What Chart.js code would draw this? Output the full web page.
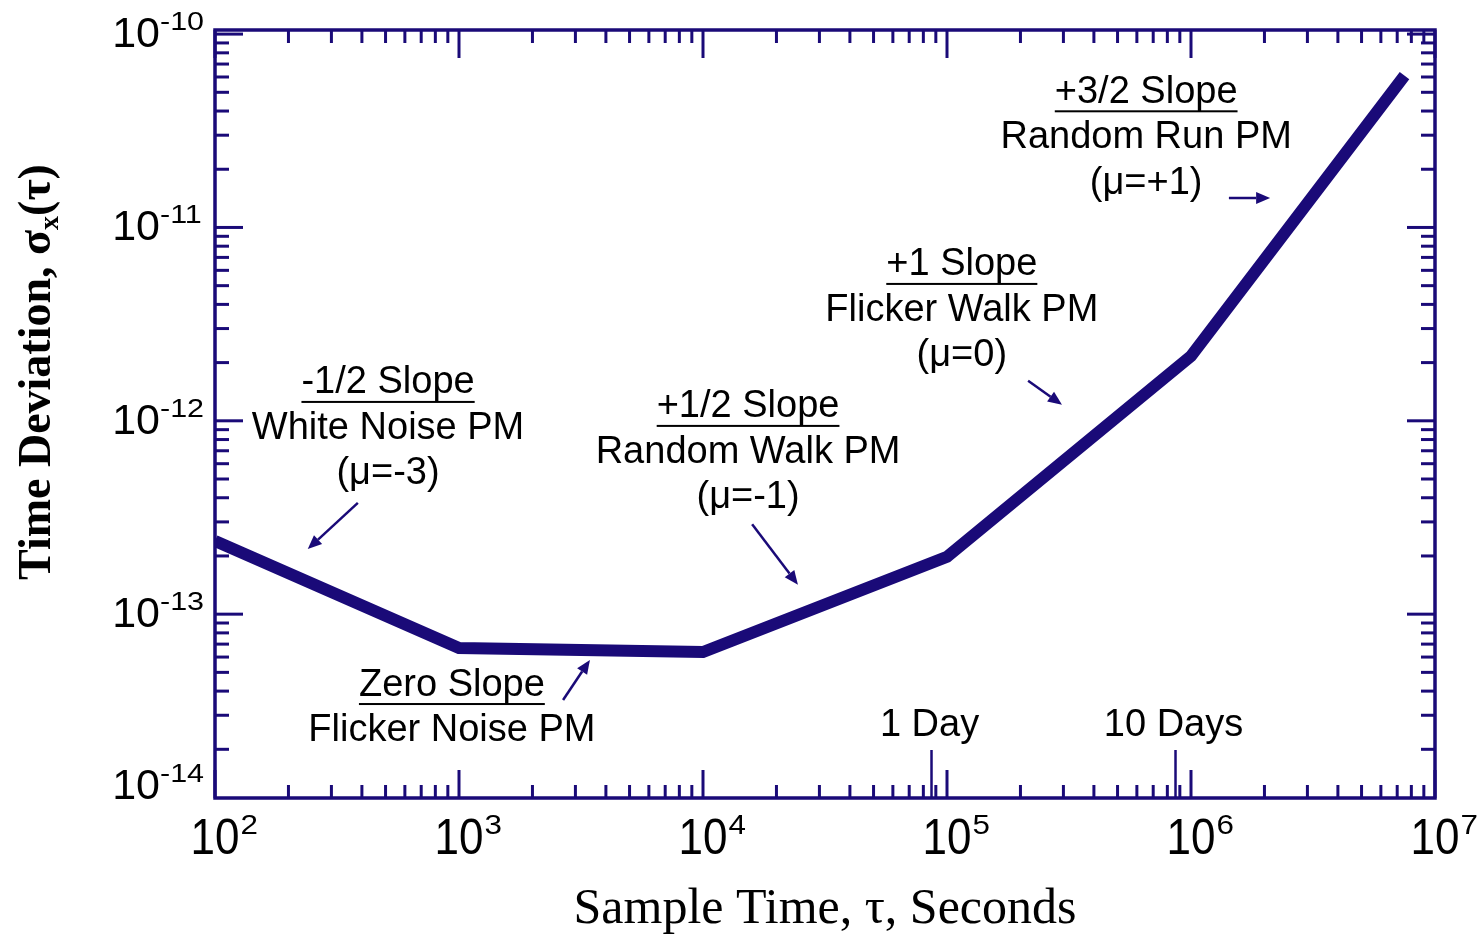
<!DOCTYPE html>
<html>
<head>
<meta charset="utf-8">
<script src="https://cdn.jsdelivr.net/npm/chart.js@4/dist/chart.umd.min.js"></script>
<style>
  html, body { margin: 0; padding: 0; background: #fff; }
  #wrap { width: 1481px; height: 935px; }
</style>
</head>
<body>
<div id="wrap"><canvas id="tdevChart"></canvas></div>
<script>
// ====== DATA ======
const tauSeconds = [1e2, 1e3, 1e4, 1e5, 1e6, 7.5e6];
const sigmaX     = [2.39e-13, 6.68e-14, 6.37e-14, 1.98e-13, 2.16e-12, 6.1e-11];

const xTickExps = [2, 3, 4, 5, 6, 7];
const yTickExps = [-10, -11, -12, -13, -14];

const dayTicks  = [86400, 864000];
const dayLabels = ['1 Day', '10 Days'];

// slope notes, anchored (tau, sigma) at the first line
const noteLines = [
  ['-1/2 Slope', 'White Noise PM', '(μ=-3)'],
  ['+1/2 Slope', 'Random Walk PM', '(μ=-1)'],
  ['+1 Slope', 'Flicker Walk PM', '(μ=0)'],
  ['+3/2 Slope', 'Random Run PM', '(μ=+1)'],
  ['Zero Slope', 'Flicker Noise PM']
];
const noteTau   = [512, 15300, 115000, 655000, 935];
const noteSigma = [1.57e-12, 1.18e-12, 6.4e-12, 5.0e-11, 4.3e-14];
// arrows: tauFrom, sigmaFrom, tauTo, sigmaTo
const noteArrows = [
  [385, 3.76e-13, 240, 2.17e-13],
  [15900, 2.92e-13, 24500, 1.42e-13],
  [215000, 1.61e-12, 296000, 1.21e-12],
  [1.43e6, 1.42e-11, 2.11e6, 1.42e-11],
  [2670, 3.6e-14, 3440, 5.8e-14]
];

// ====== STYLE ======
const NAVY = '#1a0a78';
const SANS = '"Liberation Sans", Arial, Helvetica, sans-serif';
const SERIF = '"Liberation Serif", "Times New Roman", serif';

// ====== HELPERS ======
function seg(ctx, x1, y1, x2, y2) {
  ctx.beginPath(); ctx.moveTo(x1, y1); ctx.lineTo(x2, y2); ctx.stroke();
}

function arrow(ctx, x1, y1, x2, y2) {
  const ang = Math.atan2(y2 - y1, x2 - x1);
  const hl = 14, hw = 6;
  const bx = x2 - hl * Math.cos(ang), by = y2 - hl * Math.sin(ang);
  ctx.lineWidth = 2.5;
  seg(ctx, x1, y1, bx, by);
  ctx.beginPath();
  ctx.moveTo(x2, y2);
  ctx.lineTo(bx + hw * Math.sin(ang), by - hw * Math.cos(ang));
  ctx.lineTo(bx - hw * Math.sin(ang), by + hw * Math.cos(ang));
  ctx.closePath();
  ctx.fill();
}

// text squeezed/stretched horizontally, left edge at x
function wideText(ctx, txt, x, y, sx) {
  ctx.save();
  ctx.translate(x, y);
  ctx.scale(sx, 1);
  ctx.textAlign = 'left';
  ctx.fillText(txt, 0, 0);
  ctx.restore();
  return ctx.measureText(txt).width * sx;
}

// ====== PLUGIN: frame, inward ticks, labels, notes ======
const tdevDecor = {
  id: 'tdevDecor',
  afterDatasetsDraw(chart) {
    const { ctx, chartArea: a, scales: { x, y } } = chart;
    ctx.save();
    ctx.strokeStyle = NAVY;
    ctx.fillStyle = NAVY;
    ctx.lineCap = 'butt';

    // x ticks (bottom + top)
    ctx.lineWidth = 3;
    for (let d = 2; d <= 7; d++) {
      for (let m = 1; m <= 9; m++) {
        const v = m * Math.pow(10, d);
        if (v > x.max * 1.0001) break;
        const px = x.getPixelForValue(v);
        const len = m === 1 ? 28 : 13;
        seg(ctx, px, a.bottom, px, a.bottom - len);
        seg(ctx, px, a.top, px, a.top + len);
      }
    }
    // y ticks (left + right)
    for (let d = -14; d <= -10; d++) {
      for (let m = 1; m <= 9; m++) {
        const v = m * Math.pow(10, d);
        if (v < y.min || v > y.max) continue;
        const py = y.getPixelForValue(v);
        const len = m === 1 ? 28 : 14;
        seg(ctx, a.left, py, a.left + len, py);
        seg(ctx, a.right, py, a.right - len, py);
      }
    }
    // day markers
    ctx.lineWidth = 2.5;
    dayTicks.forEach(t => {
      const px = x.getPixelForValue(t);
      seg(ctx, px, a.bottom, px, a.bottom - 48);
    });

    // frame
    ctx.lineWidth = 3.5;
    ctx.strokeRect(a.left, a.top, a.right - a.left, a.bottom - a.top);
    ctx.restore();
  },
  afterDraw(chart) {
    const { ctx, chartArea: a, scales: { x, y } } = chart;
    ctx.save();
    ctx.fillStyle = '#000';
    ctx.textBaseline = 'middle';

    // x tick labels 10^n
    xTickExps.forEach(e => {
      const px = x.getPixelForValue(Math.pow(10, e));
      const cy = a.bottom + 42;
      ctx.font = '50px ' + SANS;
      const w = ctx.measureText('10').width * 0.88;
      wideText(ctx, '10', px - w / 2, cy, 0.88);
      ctx.font = '28px ' + SANS;
      wideText(ctx, String(e), px + w / 2 + 1, cy - 14, 1.12);
    });

    // y tick labels 10^-n
    yTickExps.forEach(e => {
      let cy = y.getPixelForValue(Math.pow(10, e)) + 1;
      cy = Math.max(a.top + 5, Math.min(cy, a.bottom - 11));
      ctx.font = '43px ' + SANS;
      const w = ctx.measureText('10').width;
      wideText(ctx, '10', 160 - w, cy, 1);
      ctx.font = '25px ' + SANS;
      wideText(ctx, String(e), 160, cy - 12, 1.22);
    });

    // day labels
    ctx.font = '38px ' + SANS;
    ctx.textAlign = 'center';
    dayTicks.forEach((t, i) => {
      ctx.fillText(dayLabels[i], x.getPixelForValue(t) - 2, y.getPixelForValue(2.67e-14));
    });

    // slope notes
    ctx.font = '38px ' + SANS;
    noteLines.forEach((lines, i) => {
      const cx = x.getPixelForValue(noteTau[i]);
      const cy = y.getPixelForValue(noteSigma[i]);
      lines.forEach((txt, k) => ctx.fillText(txt, cx, cy + k * 45.5));
      const w = ctx.measureText(lines[0]).width;
      ctx.fillRect(cx - w / 2, cy + 18, w, 2);
    });

    // arrows
    ctx.fillStyle = NAVY;
    ctx.strokeStyle = NAVY;
    noteArrows.forEach(r => {
      arrow(ctx, x.getPixelForValue(r[0]), y.getPixelForValue(r[1]),
                 x.getPixelForValue(r[2]), y.getPixelForValue(r[3]));
    });

    // axis titles
    ctx.fillStyle = '#000';
    ctx.textBaseline = 'alphabetic';
    ctx.textAlign = 'center';
    ctx.font = '50px ' + SERIF;
    ctx.fillText('Sample Time, τ, Seconds', (a.left + a.right) / 2, 923);

    // rotated y title with subscript
    ctx.save();
    ctx.translate(50, 372);
    ctx.rotate(-Math.PI / 2);
    ctx.textAlign = 'left';
    const mainF = 'bold 46px ' + SERIF, subF = 'bold 28px ' + SERIF;
    ctx.font = mainF;
    const p1 = 'Time Deviation, σ', p3 = '(τ)';
    const w1 = ctx.measureText(p1).width, w3 = ctx.measureText(p3).width;
    ctx.font = subF;
    const w2 = ctx.measureText('x').width;
    let ux = -(w1 + w2 + w3) / 2;
    ctx.font = mainF; ctx.fillText(p1, ux, 0); ux += w1;
    ctx.font = subF; ctx.fillText('x', ux, 8); ux += w2;
    ctx.font = mainF; ctx.fillText(p3, ux, 0);
    ctx.restore();

    ctx.restore();
  }
};

// ====== CHART ======
const ctx = document.getElementById('tdevChart').getContext('2d');
new Chart(ctx, {
  type: 'line',
  data: {
    datasets: [{
      data: tauSeconds.map((t, i) => ({ x: t, y: sigmaX[i] })),
      borderColor: NAVY,
      borderWidth: 12,
      pointRadius: 0,
      tension: 0,
      fill: false,
      borderCapStyle: 'butt',
      borderJoinStyle: 'miter'
    }]
  },
  options: {
    responsive: true,
    maintainAspectRatio: false,
    animation: false,
    layout: { padding: { left: 215, right: 46, top: 30, bottom: 137 } },
    plugins: { legend: { display: false }, tooltip: { enabled: false } },
    scales: {
      x: { type: 'logarithmic', min: 100, max: 1e7, display: false },
      y: { type: 'logarithmic', min: 1.12e-14, max: 1.05e-10, display: false }
    }
  },
  plugins: [tdevDecor]
});
</script>
</body>
</html>
